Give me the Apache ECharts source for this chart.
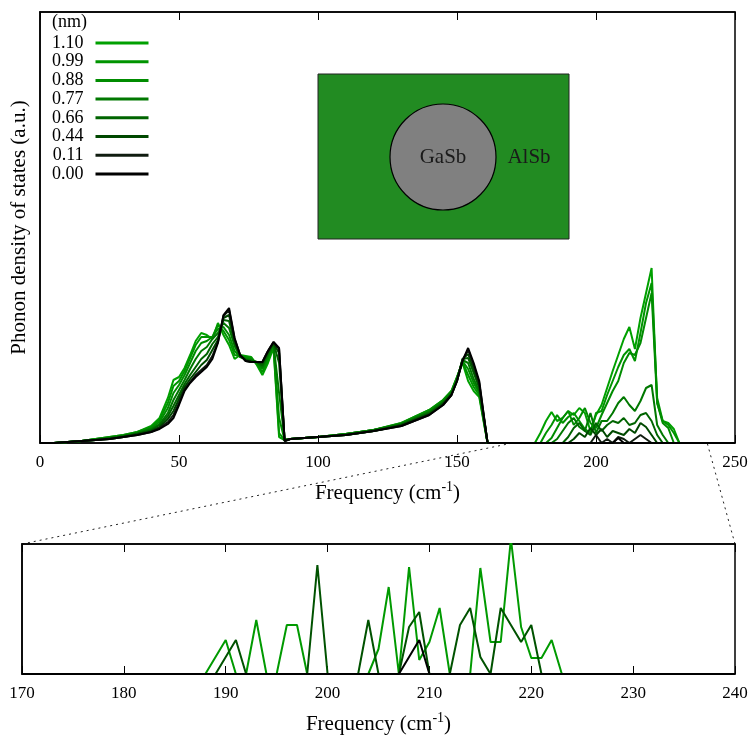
<!DOCTYPE html>
<html><head><meta charset="utf-8">
<script src="https://cdn.jsdelivr.net/npm/echarts@6/dist/echarts.min.js"></script>
<style>html,body{margin:0;padding:0;background:#fff}#c{width:753px;height:738px}</style>
</head><body><div id="c"></div><script>
// ---- data ----
const sizes = ['1.10','0.99','0.88','0.77','0.66','0.44','0.11','0.00'];
const sizeColors = ['#00a000','#009400','#008c00','#007800','#006400','#004800','#101c10','#000000'];
const freqMain = [0,5,10,15,20,25,30,35,40,43,46,48,50,52,54,56,58,60,62,64,66,68,70,72,74,76,78,80,82,84,86,88,90,
  100,110,120,130,140,145,148,150,152,154,156,158,160,161,
  176,178,180,182,184,186,188,190,192,194,196,198,200,202,204,206,208,210,212,214,216,218,220,222,224,226,228,230,240,250];
const dos110 = [0,0,1,2,4,6,8,11,17,25,45,63,66,75,88,102,110,108,104,120,108,98,84,88,87,86,78,68,80,95,6,3,4,
  6,9,13,20,33,43,52,66,80,62,52,46,15,0,
  0,0,10,22,31,22,25,32,28,35,30,12,28,38,55,72,88,104,116,94,125,150,175,40,22,20,14,0,0,0];
const dos099 = [0,0,1,2,4,6,8,11,16,23,40,57,62,72,85,98,106,106,106,118,112,103,88,87,86,85,79,71,83,97,10,3,4,
  6,9,13,20,33,43,52,66,81,68,56,48,16,0,
  0,0,0,10,18,28,20,26,30,22,14,10,30,32,48,62,76,88,94,82,110,140,160,45,22,18,10,0,0,0];
const dos088 = [0,0,1,2,4,5,7,10,15,21,35,50,58,68,80,92,100,102,106,114,116,108,92,86,85,84,80,74,86,98,25,3,4,
  6,9,13,19,32,42,51,65,82,74,60,50,17,0,
  0,0,0,0,5,15,25,32,18,25,35,20,15,28,40,52,62,80,90,88,100,125,150,40,20,15,0,0,0,0];
const dos077 = [0,0,1,2,3,5,7,10,14,19,30,43,53,63,74,84,92,96,104,110,120,115,97,86,84,83,81,76,88,99,50,3,4,
  6,9,13,19,31,41,50,64,83,80,64,52,18,0,
  0,0,0,0,0,4,12,20,25,16,12,30,10,22,22,30,40,46,38,32,42,55,58,18,8,0,0,0,0,0];
const dos066 = [0,0,1,2,3,5,7,9,13,18,27,37,48,59,68,76,84,89,99,106,123,122,100,87,83,82,81,78,90,100,80,3,4,
  6,8,12,18,30,40,49,63,84,85,70,55,19,0,
  0,0,0,0,0,0,0,6,15,20,12,8,20,12,18,22,20,25,18,20,28,30,22,8,0,0,0,0,0,0];
const dos044 = [0,0,1,2,3,4,6,9,12,16,24,32,44,56,64,71,78,83,93,103,125,128,102,87,83,81,81,80,91,100,90,2,4,
  6,8,12,18,29,39,48,62,84,89,74,57,19,0,
  0,0,0,0,0,0,0,0,4,10,6,15,8,14,6,12,10,8,14,10,20,16,8,0,0,0,0,0,0,0];
const dos011 = [0,0,1,2,3,4,6,8,11,15,21,28,40,54,61,68,73,78,87,101,127,133,104,88,82,81,81,81,92,101,94,2,4,
  6,8,12,17,28,38,48,62,83,93,78,60,20,0,
  0,0,0,0,0,0,0,0,0,0,0,0,8,0,4,0,6,4,0,4,8,4,0,0,0,0,0,0,0,0];
const dos000 = [0,0,1,2,3,4,6,8,11,14,19,25,38,52,60,66,71,76,84,100,128,135,105,88,82,81,81,81,92,101,95,2,4,
  6,8,12,17,28,38,48,62,82,95,80,62,20,0,
  0,0,0,0,0,0,0,0,0,0,0,0,0,0,0,0,5,0,0,0,0,0,0,0,0,0,0,0,0,0];
const dosMain = [dos110,dos099,dos088,dos077,dos066,dos044,dos011,dos000];

const freqZoom = [170,186,187,188,189,190,191,192,193,194,195,196,197,198,199,200,201,202,203,204,205,
  206,207,208,209,210,211,212,213,214,215,216,217,218,219,220,221,222,223,224,240];
const zoomBright = [0,0,0,0,17,34,0,0,54,0,0,49,49,0,0,0,0,0,0,0,25,87,0,107,14,32,66,0,0,0,106,32,32,135,47,16,16,34,0,0,0];
const zoomDark   = [0,0,0,0,0,17,34,0,0,0,0,0,0,0,109,0,0,0,0,54,0,0,0,47,62,0,0,0,49,66,17,0,66,49,32,49,0,0,0,0,0];
const zoomBlack  = [0,0,0,0,0,0,0,0,0,0,0,0,0,0,0,0,0,0,0,0,0,0,0,17,34,0,0,0,0,0,0,0,0,0,0,0,0,0,0,0,0];
const zoomColors = ['#009a00','#005200','#000000'];

const mainTicks = {min:0, max:250, step:50};
const zoomTicks = {min:170, max:240, step:10};

// ---- chart ----
const FONT = 'Liberation Serif';
const chart = echarts.init(document.getElementById('c'));
const series = sizes.map((s,i)=>({
  name:s, type:'line', xAxisIndex:0, yAxisIndex:0, symbol:'none', animation:false,
  data: freqMain.map((f,j)=>[f, dosMain[i][j]]),
  lineStyle:{width:2, color:sizeColors[i]}, itemStyle:{color:sizeColors[i]}, z:2+i
}));
[zoomBright, zoomDark, zoomBlack].forEach((arr,i)=>{
  series.push({name:'zoom'+i, type:'line', xAxisIndex:2, yAxisIndex:1, symbol:'none', animation:false,
    data: freqZoom.map((f,j)=>[f, arr[j]]), lineStyle:{width:2, color:zoomColors[i]}, itemStyle:{color:zoomColors[i]}, z:2+i});
});
const lbl = {fontFamily:FONT, fontSize:17, color:'#000'};
const nameStyle = {fontFamily:FONT, fontSize:21, color:'#000', rich:{sup:{fontFamily:FONT, fontSize:14, color:'#000', verticalAlign:'top', padding:[0,0,12,0]}}};
function xa(grid, t, pos, showLabel){
  return {type:'value', gridIndex:grid, min:t.min, max:t.max, interval:t.step, position:pos,
    axisLine:{show:true, lineStyle:{color:'#000', width:1.5}},
    axisTick:{show:true, inside:true, length:8, lineStyle:{color:'#000', width:1}},
    axisLabel:{show:showLabel, margin:11, ...lbl}, splitLine:{show:false},
    name: showLabel ? 'Frequency (cm{sup|-1})' : '', nameLocation:'middle', nameGap:37, nameTextStyle:nameStyle};
}
const option = {
  backgroundColor:'#fff', animation:false,
  grid:[{left:40, top:12, width:695, height:431, show:true, borderColor:'#000', borderWidth:1.5},
        {left:22, top:544, width:713, height:130, show:true, borderColor:'#000', borderWidth:1.5}],
  xAxis:[xa(0,mainTicks,'bottom',true), xa(0,mainTicks,'top',false), xa(1,zoomTicks,'bottom',true), xa(1,zoomTicks,'top',false)],
  yAxis:[{type:'value', gridIndex:0, min:0, max:431, axisLabel:{show:false}, axisTick:{show:false}, splitLine:{show:false},
          axisLine:{show:true, lineStyle:{color:'#000', width:1.5}},
          name:'Phonon density of states (a.u.)', nameLocation:'middle', nameGap:10, nameTextStyle:{fontFamily:FONT, fontSize:21, color:'#000'}},
         {type:'value', gridIndex:1, min:0, max:130, axisLabel:{show:false}, axisTick:{show:false}, splitLine:{show:false},
          axisLine:{show:true, lineStyle:{color:'#000', width:1.5}}}],
  legend:{data:sizes, orient:'vertical', left:52, top:34, align:'right', icon:'rect', itemWidth:53, itemHeight:3, itemGap:0.7,
          padding:0, selectedMode:false, textStyle:{fontFamily:FONT, fontSize:18, color:'#000', padding:[0,7,0,0]}},
  series:series
};
chart.setOption(option);

const a = chart.convertToPixel({xAxisIndex:2, yAxisIndex:1}, [zoomTicks.min, 130]);
const b = chart.convertToPixel({xAxisIndex:0, yAxisIndex:0}, [zoomTicks.min, 0]);
const c = chart.convertToPixel({xAxisIndex:2, yAxisIndex:1}, [zoomTicks.max, 130]);
const d = chart.convertToPixel({xAxisIndex:0, yAxisIndex:0}, [zoomTicks.max, 0]);
const dash = {stroke:'#222', lineWidth:1, lineDash:[2,4]};
chart.setOption({graphic:[
  {type:'line', shape:{x1:a[0], y1:a[1], x2:b[0], y2:b[1]}, style:dash, silent:true},
  {type:'line', shape:{x1:c[0], y1:c[1], x2:d[0], y2:d[1]}, style:dash, silent:true},
  {type:'text', x:52, y:13.5, style:{text:'(nm)', fontFamily:FONT, fontSize:18, fill:'#000'}},
  {type:'rect', shape:{x:318, y:74, width:251, height:165}, style:{fill:'#228b22', stroke:'#222', lineWidth:1}},
  {type:'circle', shape:{cx:443, cy:157, r:53}, style:{fill:'#808080', stroke:'#000', lineWidth:1.2}},
  {type:'text', x:443, y:157, style:{text:'GaSb', fontFamily:FONT, fontSize:21, fill:'#1a1a1a', align:'center', verticalAlign:'middle'}},
  {type:'text', x:529, y:157, style:{text:'AlSb', fontFamily:FONT, fontSize:21, fill:'#1a1a1a', align:'center', verticalAlign:'middle'}}
]});
</script></body></html>
